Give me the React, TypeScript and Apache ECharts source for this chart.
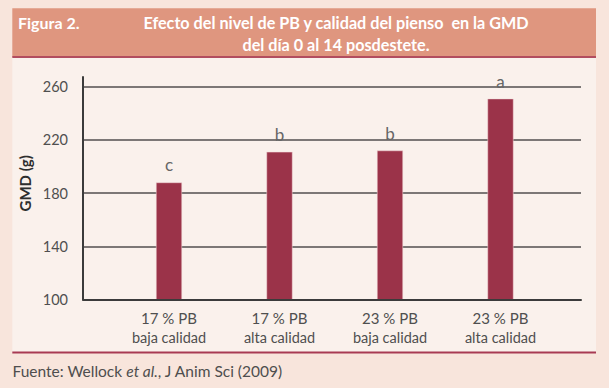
import React, { useEffect, useRef } from "react";
import * as echarts from "echarts";

const categories = ["17 % PB", "17 % PB", "23 % PB", "23 % PB"];
const qualities = ["baja calidad", "alta calidad", "baja calidad", "alta calidad"];
const gmdValues = [188, 211, 212, 251];
const letters = ["c", "b", "b", "a"];
const yTicks = { min: 100, max: 260, interval: 40 };

const FONT = "Lato, 'Open Sans', sans-serif";

export default function App() {
  const ref = useRef<HTMLDivElement>(null);
  useEffect(() => {
    if (!ref.current) return;
    const chart = echarts.init(ref.current, undefined, { renderer: "svg", width: 609, height: 388 });
    const gridBottom = 88.5;
    const option: any = {
      animation: false,
      backgroundColor: "#f8e5dc",
      textStyle: { fontFamily: FONT },
      grid: [
        { left: 83, right: 28, top: 77, bottom: gridBottom },
        { left: 83, right: 28, top: 86.7, bottom: gridBottom },
        { left: 113.75, right: 53.25, top: 86.7, bottom: gridBottom },
      ],
      xAxis: [
        {
          gridIndex: 0, type: "value", min: 0, max: 1,
          axisLine: { show: true, onZero: false, lineStyle: { color: "#3b3b3b", width: 2 } },
          axisTick: { show: false }, axisLabel: { show: false }, splitLine: { show: false }, z: 5,
        },
        {
          gridIndex: 1, type: "value", min: 0, max: 1, show: false,
        },
        {
          gridIndex: 2, type: "category", data: categories,
          axisLine: { show: false }, axisTick: { show: false },
          axisLabel: {
            margin: 8,
            formatter: (v: string, i: number) => `{a|${v}}\n{b|${qualities[i]}}`,
            rich: {
              a: { fontFamily: FONT, fontSize: 15, lineHeight: 20, color: "#4f4f4f" },
              b: { fontFamily: FONT, fontSize: 14.5, lineHeight: 20, color: "#4f4f4f" },
            },
          },
        },
      ],
      yAxis: [
        {
          gridIndex: 0, type: "value", min: 100, max: 267.5,
          axisLine: { show: true, onZero: false, lineStyle: { color: "#3b3b3b", width: 2 } },
          axisTick: { show: false }, axisLabel: { show: false }, splitLine: { show: false }, z: 5,
        },
        {
          gridIndex: 1, type: "value", min: yTicks.min, max: yTicks.max, interval: yTicks.interval,
          axisLine: { show: false }, axisTick: { show: false },
          axisLabel: { margin: 15, fontFamily: FONT, fontSize: 14.5, color: "#4f4f4f" },
          splitLine: { show: true, lineStyle: { color: "#7c7776", width: 2 } },
        },
        {
          gridIndex: 2, type: "value", min: yTicks.min, max: yTicks.max, show: false,
        },
      ],
      series: [
        {
          type: "bar",
          xAxisIndex: 2,
          yAxisIndex: 2,
          data: gmdValues,
          barWidth: 26,
          itemStyle: { color: "#9b3349", borderColor: "#f3dada", borderWidth: 0.5 },
          label: {
            show: true,
            position: "top",
            distance: 9,
            fontFamily: FONT,
            fontSize: 17,
            color: "#666",
            formatter: (p: any) => letters[p.dataIndex],
          },
          z: 3,
        },
      ],
      graphic: [
        { type: "rect", z: -10, shape: { x: 12.3, y: 57, width: 583.7, height: 296 }, style: { fill: "#faf1ec" } },
        { type: "rect", z: -9, shape: { x: 12.3, y: 8.3, width: 583.7, height: 48.5 }, style: { fill: "#df967f" } },
        { type: "rect", z: -8, shape: { x: 12.3, y: 56, width: 583.7, height: 2 }, style: { fill: "#b24d5f" } },
        { type: "rect", z: -8, shape: { x: 12.3, y: 351.5, width: 583.7, height: 2 }, style: { fill: "#a83a53" } },
        {
          type: "text", x: 18, y: 22.7,
          style: { text: "Figura 2.", fill: "#ffffff", font: `bold 16px ${FONT}`, verticalAlign: "middle" },
        },
        {
          type: "text", x: 336, y: 22.7,
          style: {
            text: "Efecto del nivel de PB y calidad del pienso  en la GMD",
            fill: "#ffffff", font: `bold 16.2px ${FONT}`, align: "center", verticalAlign: "middle",
          },
        },
        {
          type: "text", x: 336, y: 44.3,
          style: {
            text: "del día 0 al 14 posdestete.",
            fill: "#ffffff", font: `bold 16.2px ${FONT}`, align: "center", verticalAlign: "middle",
          },
        },
        {
          type: "text", x: 25, y: 183.3, rotation: Math.PI / 2,
          style: {
            text: "GMD (g)", fill: "#2e2e2e", font: `bold 15px ${FONT}`,
            align: "center", verticalAlign: "middle",
          },
        },
        {
          type: "text", x: 12.5, y: 370.7,
          style: {
            text: "{n|Fuente: Wellock }{i|et al.}{n|, J Anim Sci (2009)}",
            verticalAlign: "middle",
            rich: {
              n: { fontFamily: FONT, fontSize: 15.5, fill: "#4e4e4e", color: "#4e4e4e" },
              i: { fontFamily: FONT, fontSize: 15.5, fontStyle: "italic", fill: "#4e4e4e", color: "#4e4e4e" },
            },
          },
        },
      ],
    };
    chart.setOption(option);
    return () => chart.dispose();
  }, []);
  return (
    <div
      ref={ref}
      style={{ position: "fixed", left: 0, top: 0, width: 609, height: 388 }}
    />
  );
}
